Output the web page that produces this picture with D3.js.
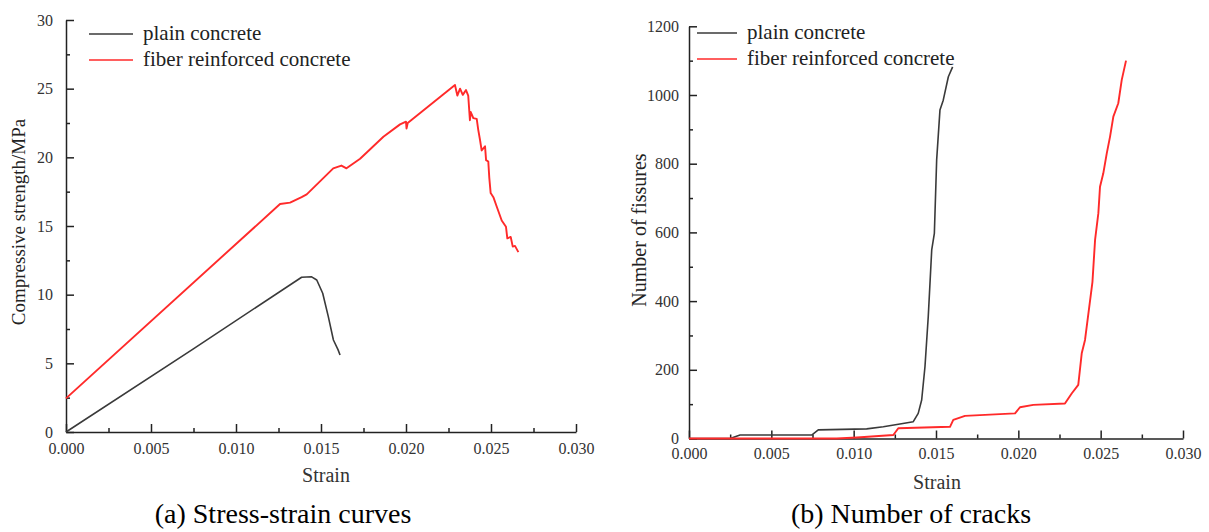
<!DOCTYPE html>
<html>
<head>
<meta charset="utf-8">
<script src="https://cdn.jsdelivr.net/npm/d3@7"></script>
<style>
  body { margin: 0; background: #fff; }
</style>
</head>
<body>
<div id="chart"></div>
<script>
// ---- data ----
var seriesNames = ["plain concrete", "fiber reinforced concrete"];

// (a) stress-strain
var plainStrain = [0, 0.00747, 0.01386, 0.01445, 0.01475, 0.0151, 0.01543, 0.01573, 0.016, 0.01612];
var plainStress = [0, 6.04, 11.27, 11.3, 11.07, 10.1, 8.4, 6.7, 6.0, 5.6];

var fiberStrain = [0, 0.01259, 0.01318, 0.01386, 0.01416, 0.01572, 0.0162, 0.0165, 0.0173, 0.01867, 0.01965,
  0.0200, 0.02003, 0.0201, 0.02288, 0.02302, 0.02318, 0.02334, 0.02353, 0.02366, 0.02376, 0.02381, 0.02396,
  0.02416, 0.02425, 0.02435, 0.02445, 0.02465, 0.02471, 0.02484, 0.0249, 0.02498, 0.02514, 0.02534, 0.02563,
  0.02588, 0.02596, 0.02616, 0.02628, 0.02641, 0.02661];
var fiberStress = [2.45, 16.6, 16.7, 17.1, 17.3, 19.2, 19.4, 19.2, 19.9, 21.5, 22.4,
  22.6, 22.1, 22.5, 25.27, 24.5, 25.0, 24.55, 24.9, 24.5, 22.7, 23.3, 22.85,
  22.8, 22.0, 21.3, 20.5, 20.8, 19.8, 19.7, 18.5, 17.4, 17.1, 16.4, 15.4,
  14.95, 14.1, 14.2, 13.5, 13.55, 13.1];

// (b) number of cracks
var plainCrackStrain = [0, 0.0025, 0.0031, 0.00745, 0.00785, 0.01079, 0.0118, 0.01281, 0.01362, 0.01392,
  0.01413, 0.01433, 0.01453, 0.01474, 0.0149, 0.01504, 0.01524, 0.01544, 0.01575, 0.01601];
var plainCracks = [0, 0, 10, 10, 25, 28, 34, 42, 49, 73,
  112, 209, 355, 549, 597, 811, 956, 985, 1053, 1082];

var fiberCrackStrain = [0, 0.00897, 0.0102, 0.01241, 0.01271, 0.01585, 0.01605, 0.01676, 0.0198, 0.0201,
  0.02091, 0.02283, 0.02324, 0.02364, 0.02385, 0.02405, 0.0245, 0.02466, 0.02486, 0.02496, 0.02516,
  0.02537, 0.02557, 0.02577, 0.02607, 0.02628, 0.02654];
var fiberCracks = [0, 0, 3, 10, 30, 34, 54, 66, 73, 91,
  98, 102, 131, 156, 248, 287, 455, 578, 656, 733, 772,
  830, 879, 937, 976, 1044, 1100];

// ticks
var strainTicks = [0, 0.005, 0.01, 0.015, 0.02, 0.025, 0.03];
var strainMinor = [0.0025, 0.0075, 0.0125, 0.0175, 0.0225, 0.0275];
var stressTicks = [0, 5, 10, 15, 20, 25, 30];
var stressMinor = [2.5, 7.5, 12.5, 17.5, 22.5, 27.5];
var crackTicks = [0, 200, 400, 600, 800, 1000, 1200];
var crackMinor = [100, 300, 500, 700, 900, 1100];

var colors = ["#3a3a3a", "#ff2a2a"];
var serif = "'Liberation Serif', 'Times New Roman', 'DejaVu Serif', serif";

var svg = d3.select("#chart")
  .append("svg")
    .attr("width", 1209)
    .attr("height", 532)
    .attr("font-family", serif);

function zip(xs, ys) {
  return xs.map(function(d, i) { return [d, ys[i]]; });
}

// draws one panel: axes, curves, legend, titles
function drawPanel(cfg) {
  var x = d3.scaleLinear().domain([0, 0.03]).range([cfg.x0, cfg.x1]);
  var y = d3.scaleLinear().domain([0, cfg.yMax]).range([cfg.y0, cfg.y1]);

  // minor ticks (inside)
  svg.append("g")
      .attr("transform", "translate(0," + cfg.y0 + ")")
      .call(d3.axisBottom(x).tickValues(strainMinor).tickSize(-4).tickFormat(""))
      .call(function(g) { g.select(".domain").remove(); });
  svg.append("g")
      .attr("transform", "translate(" + cfg.x0 + ",0)")
      .call(d3.axisLeft(y).tickValues(cfg.yMinor).tickSize(-4).tickFormat(""))
      .call(function(g) { g.select(".domain").remove(); });

  // major axes
  var xAxis = svg.append("g")
      .attr("transform", "translate(0," + cfg.y0 + ")")
      .call(d3.axisBottom(x).tickValues(strainTicks).tickSize(-8).tickSizeOuter(0)
        .tickPadding(cfg.xPad).tickFormat(d3.format(".3f")));
  var yAxis = svg.append("g")
      .attr("transform", "translate(" + cfg.x0 + ",0)")
      .call(d3.axisLeft(y).tickValues(cfg.yTicks).tickSize(-8).tickSizeOuter(0)
        .tickPadding(cfg.yPad).tickFormat(d3.format("d")));

  [xAxis, yAxis].forEach(function(g) {
    g.attr("font-family", serif).attr("font-size", 16);
    g.selectAll("text").attr("fill", "#333");
    g.selectAll("line, path").attr("stroke", "#222").attr("stroke-width", 1.5);
  });
  svg.selectAll(".tick line").attr("stroke", "#222").attr("stroke-width", 1.5);

  // curves
  var line = d3.line()
    .x(function(d) { return x(d[0]); })
    .y(function(d) { return y(d[1]); });

  cfg.series.forEach(function(s, i) {
    svg.append("path")
      .datum(s)
      .attr("fill", "none")
      .attr("stroke", colors[i])
      .attr("stroke-width", i == 0 ? 1.6 : 1.9)
      .attr("stroke-linejoin", "round")
      .attr("d", line);
  });

  // legend
  seriesNames.forEach(function(name, i) {
    var ly = cfg.legY + i * 26;
    svg.append("line")
      .attr("x1", cfg.legX).attr("x2", cfg.legX + cfg.legW)
      .attr("y1", ly).attr("y2", ly)
      .attr("stroke", colors[i])
      .attr("stroke-width", 1.6);
    svg.append("text")
      .attr("x", cfg.legX + cfg.legW + 10)
      .attr("y", ly)
      .attr("dy", "0.3em")
      .attr("font-size", 21)
      .attr("fill", "#222")
      .text(name);
  });

  // axis titles
  svg.append("text")
    .attr("x", cfg.xTitleX)
    .attr("y", cfg.y0 + 50)
    .attr("text-anchor", "middle")
    .attr("font-size", 20)
    .attr("fill", "#333")
    .text("Strain");
  svg.append("text")
    .attr("transform", "translate(" + cfg.yTitleX + "," + cfg.yTitleY + ") rotate(-90)")
    .attr("text-anchor", "middle")
    .attr("font-size", cfg.yTitleSize)
    .attr("fill", "#222")
    .text(cfg.yTitle);

  // caption under the panel
  svg.append("text")
    .attr("x", cfg.capX)
    .attr("y", 523)
    .attr("text-anchor", "middle")
    .attr("font-size", 28)
    .attr("fill", "#000")
    .text(cfg.caption);
}

drawPanel({
  x0: 66, x1: 576, y0: 432, y1: 20, yMax: 30,
  yTicks: stressTicks, yMinor: stressMinor, xPad: 11, yPad: 13,
  series: [zip(plainStrain, plainStress), zip(fiberStrain, fiberStress)],
  legX: 89, legY: 34, legW: 44,
  xTitleX: 326, yTitleX: 25, yTitleY: 222, yTitleSize: 19,
  yTitle: "Compressive strength/MPa",
  capX: 283, caption: "(a) Stress-strain curves"
});

drawPanel({
  x0: 689, x1: 1183, y0: 438.5, y1: 26.3, yMax: 1200,
  yTicks: crackTicks, yMinor: crackMinor, xPad: 9, yPad: 10,
  series: [zip(plainCrackStrain, plainCracks), zip(fiberCrackStrain, fiberCracks)],
  legX: 697, legY: 33, legW: 40,
  xTitleX: 937, yTitleX: 646, yTitleY: 230, yTitleSize: 20,
  yTitle: "Number of fissures",
  capX: 911, caption: "(b) Number of cracks"
});
</script>
</body>
</html>
